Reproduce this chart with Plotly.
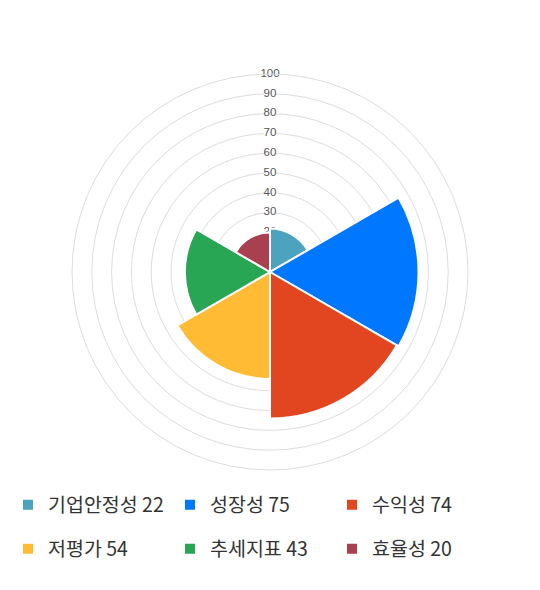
import plotly.graph_objects as go

# data
labels = ['기업안정성', '성장성', '수익성', '저평가', '추세지표', '효율성']
values = [22, 75, 74, 54, 43, 20]
colors = ['#4BA3BF', '#0077FF', '#E24621', '#FFBB33', '#28A654', '#A8404F']
angles = [30, 90, 150, 210, 270, 330]
tick_vals = [10, 20, 30, 40, 50, 60, 70, 80, 90, 100]

fig = go.Figure()

# tick labels on the bottom polar subplot, so the wedges can cover them
fig.add_trace(go.Scatterpolar(
    r=tick_vals, theta=[0] * len(tick_vals), mode='markers+text',
    text=[str(v) for v in tick_vals],
    marker=dict(symbol='square', size=12, color='white'),
    textposition='middle center',
    textfont=dict(size=11.5, color='#555555', family='Liberation Sans, Arial'),
    showlegend=False, hoverinfo='skip', subplot='polar',
))

for i, (lab, val, col, ang) in enumerate(zip(labels, values, colors, angles)):
    fig.add_trace(go.Barpolar(
        r=[val], theta=[ang], width=[60],
        name=f'{lab} {val}',
        legend='legend' if i < 3 else 'legend2',
        subplot='polar2',
        marker=dict(color=col, line=dict(color='white', width=2)),
    ))

leg = dict(
    orientation='h', xanchor='left', yanchor='middle', x=0,
    entrywidth=117, entrywidthmode='pixels',
    font=dict(size=19.5, color='#333333'),
    itemclick=False, bgcolor='rgba(0,0,0,0)',
)

dom = dict(x=[64 / 540, 460 / 540], y=[128 / 590, 524 / 590])

fig.update_layout(
    width=540, height=590,
    margin=dict(l=0, r=0, t=0, b=0),
    paper_bgcolor='white',
    font=dict(family='Noto Sans CJK KR, Noto Sans', color='#333333'),
    polar=dict(
        domain=dom, bgcolor='white',
        radialaxis=dict(range=[0, 100], tickvals=tick_vals, showticklabels=False,
                        showline=False, ticks='', gridcolor='#DDDDDD', gridwidth=1),
        angularaxis=dict(rotation=90, direction='clockwise', showgrid=False,
                         showticklabels=False, ticks='', linecolor='#DDDDDD', linewidth=1),
    ),
    polar2=dict(
        domain=dom, bgcolor='rgba(0,0,0,0)', bargap=0,
        radialaxis=dict(range=[0, 100], visible=False),
        angularaxis=dict(rotation=90, direction='clockwise', visible=False),
    ),
    legend=dict(leg, y=1 - 497 / 590),
    legend2=dict(leg, y=1 - 541 / 590),
)

fig.write_html('out.html')
